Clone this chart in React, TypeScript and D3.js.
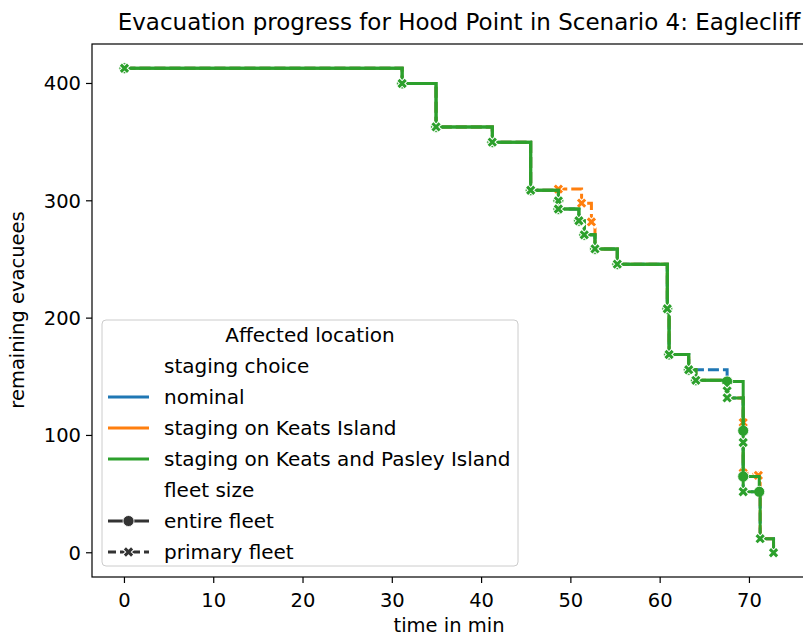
import React from "react";
import * as d3 from "d3";

// time in min, remaining evacuees
const greenEntireT = [0, 31.1, 34.9, 41.2, 45.5, 48.6, 48.6, 50.9, 51.5, 52.7, 55.2, 60.8, 61, 63.2, 64, 67.5, 69.3, 69.3, 71.1];
const greenEntireV = [413, 400, 363, 350, 309, 300, 293, 283, 271, 259, 246, 208, 169, 156, 147, 146, 104, 65, 52];

const greenPrimaryT = [0, 31.1, 34.9, 41.2, 45.5, 48.6, 48.6, 50.9, 51.5, 52.7, 55.2, 60.8, 61, 63.2, 64, 67.5, 67.5, 69.3, 69.3, 71.2, 72.7];
const greenPrimaryV = [413, 400, 363, 350, 309, 300, 293, 283, 271, 259, 246, 208, 169, 156, 147, 138, 132, 94, 52, 12, 0];

const orangePrimaryT = [0, 31.1, 34.9, 41.2, 45.5, 48.6, 51.2, 52.3, 52.7, 55.2, 60.8, 61, 63.2, 64, 67.5, 67.5, 69.3, 69.3, 71.0, 71.2, 72.7];
const orangePrimaryV = [413, 400, 363, 350, 309, 310, 298, 282, 259, 246, 208, 169, 156, 147, 138, 132, 111, 68, 66, 12, 0];

const bluePrimaryT = [0, 31.1, 34.9, 41.2, 45.5, 48.6, 48.6, 50.9, 51.5, 52.7, 55.2, 60.8, 61, 63.2, 67.5, 67.5, 69.3, 69.3, 71.2, 72.7];
const bluePrimaryV = [413, 400, 363, 350, 309, 300, 293, 283, 271, 259, 246, 208, 169, 156, 138, 132, 94, 52, 12, 0];

const xTicks = [0, 10, 20, 30, 40, 50, 60, 70];
const yTicks = [0, 100, 200, 300, 400];

const hueLabels = ["nominal", "staging on Keats Island", "staging on Keats and Pasley Island"];
const hueColors = ["#1f77b4", "#ff7f0e", "#2ca02c"];
const fleetLabels = ["entire fleet", "primary fleet"];

const W = 803;
const H = 637;
const FONT = "DejaVu Sans, sans-serif";
const FS = 19.5;
const LFS = 20;

type Series = { t: number[]; v: number[]; hue: number; fleet: number };

const series: Series[] = [
  { t: bluePrimaryT, v: bluePrimaryV, hue: 0, fleet: 1 },
  { t: orangePrimaryT, v: orangePrimaryV, hue: 1, fleet: 1 },
  { t: greenEntireT, v: greenEntireV, hue: 2, fleet: 0 },
  { t: greenPrimaryT, v: greenPrimaryV, hue: 2, fleet: 1 },
];

const allT = series.flatMap((s) => s.t);
const allV = series.flatMap((s) => s.v);
const [t0, t1] = d3.extent(allT) as [number, number];
const [v0, v1] = d3.extent(allV) as [number, number];
const padT = (t1 - t0) * 0.05;
const padV = (v1 - v0) * 0.05;

const x = d3.scaleLinear().domain([t0 - padT, t1 + padT]).range([92, 806]);
const y = d3.scaleLinear().domain([v0 - padV, v1 + padV]).range([577, 44]);

const line = d3
  .line<[number, number]>()
  .x((d) => x(d[0]))
  .y((d) => y(d[1]))
  .curve(d3.curveStepAfter);

const xPath = (r: number) => `M${-r},${-r}L${r},${r}M${-r},${r}L${r},${-r}`;

function Marker({ fleet, color, cx, cy }: { fleet: number; color: string; cx: number; cy: number }) {
  if (fleet === 0) {
    return <circle cx={cx} cy={cy} r={5.5} fill={color} stroke="#fff" strokeWidth={0.8} />;
  }
  return (
    <g transform={`translate(${cx},${cy})`}>
      <path d={xPath(3.6)} stroke="#fff" strokeWidth={5} strokeLinecap="square" fill="none" />
      <path d={xPath(3.6)} stroke={color} strokeWidth={3} strokeLinecap="butt" fill="none" />
    </g>
  );
}

export default function App() {
  const legendX = 102;
  const legendY = 320;
  const legendW = 416;
  const rowH = 31;
  const rows: { label: string; kind: string; idx: number }[] = [
    { label: "staging choice", kind: "head", idx: 0 },
    ...hueLabels.map((l, i) => ({ label: l, kind: "hue", idx: i })),
    { label: "fleet size", kind: "head", idx: 0 },
    ...fleetLabels.map((l, i) => ({ label: l, kind: "fleet", idx: i })),
  ];

  return (
    <svg
      width={W}
      height={H}
      style={{ position: "fixed", left: 0, top: 0, background: "#fff" }}
      fontFamily={FONT}
    >
      <rect x={0} y={0} width={W} height={H} fill="#fff" />
      <text x={459} y={30} textAnchor="middle" fontSize={23} fill="#000">
        Evacuation progress for Hood Point in Scenario 4: Eaglecliff
      </text>

      {/* lines */}
      {series.map((s, i) => {
        const pts = s.t.map((t, j) => [t, s.v[j]] as [number, number]);
        const color = hueColors[s.hue];
        return (
          <g key={i}>
            <path
              d={line(pts) || ""}
              fill="none"
              stroke={color}
              strokeWidth={3}
              strokeDasharray={s.fleet === 1 && s.hue !== 2 ? "11,4" : undefined}
            />
            {pts.map((p, j) => (
              <Marker key={j} fleet={s.fleet} color={color} cx={x(p[0])} cy={y(p[1])} />
            ))}
          </g>
        );
      })}

      {/* spines */}
      <rect x={92} y={44} width={714} height={533} fill="none" stroke="#000" strokeWidth={1.2} />

      {/* x axis */}
      {xTicks.map((t) => (
        <g key={t} transform={`translate(${x(t)},577)`}>
          <line y2={6} stroke="#000" strokeWidth={1.2} />
          <text y={30} textAnchor="middle" fontSize={FS}>
            {t}
          </text>
        </g>
      ))}
      <text x={449} y={632} textAnchor="middle" fontSize={FS}>
        time in min
      </text>

      {/* y axis */}
      {yTicks.map((v) => (
        <g key={v} transform={`translate(92,${y(v)})`}>
          <line x2={-6} stroke="#000" strokeWidth={1.2} />
          <text x={-11} dy="0.35em" textAnchor="end" fontSize={FS}>
            {v}
          </text>
        </g>
      ))}
      <text transform="translate(24,310) rotate(-90)" textAnchor="middle" fontSize={FS}>
        remaining evacuees
      </text>

      {/* legend */}
      <g>
        <rect
          x={legendX}
          y={legendY}
          width={legendW}
          height={246}
          rx={4}
          fill="#fff"
          fillOpacity={0.8}
          stroke="#cccccc"
          strokeWidth={1}
        />
        <text x={legendX + legendW / 2} y={335} dy="0.35em" textAnchor="middle" fontSize={LFS}>
          Affected location
        </text>
        {rows.map((r, i) => {
          const cy = 366 + i * rowH;
          return (
            <g key={i}>
              {r.kind === "hue" && (
                <line x1={108} x2={149} y1={cy} y2={cy} stroke={hueColors[r.idx]} strokeWidth={3} />
              )}
              {r.kind === "fleet" && (
                <g>
                  <line
                    x1={108}
                    x2={149}
                    y1={cy}
                    y2={cy}
                    stroke="#333"
                    strokeWidth={3}
                    strokeDasharray={r.idx === 1 ? "8,4" : undefined}
                  />
                  <Marker fleet={r.idx} color="#333" cx={128.5} cy={cy} />
                </g>
              )}
              <text x={164} y={cy} dy="0.35em" fontSize={LFS}>
                {r.label}
              </text>
            </g>
          );
        })}
      </g>
    </svg>
  );
}
